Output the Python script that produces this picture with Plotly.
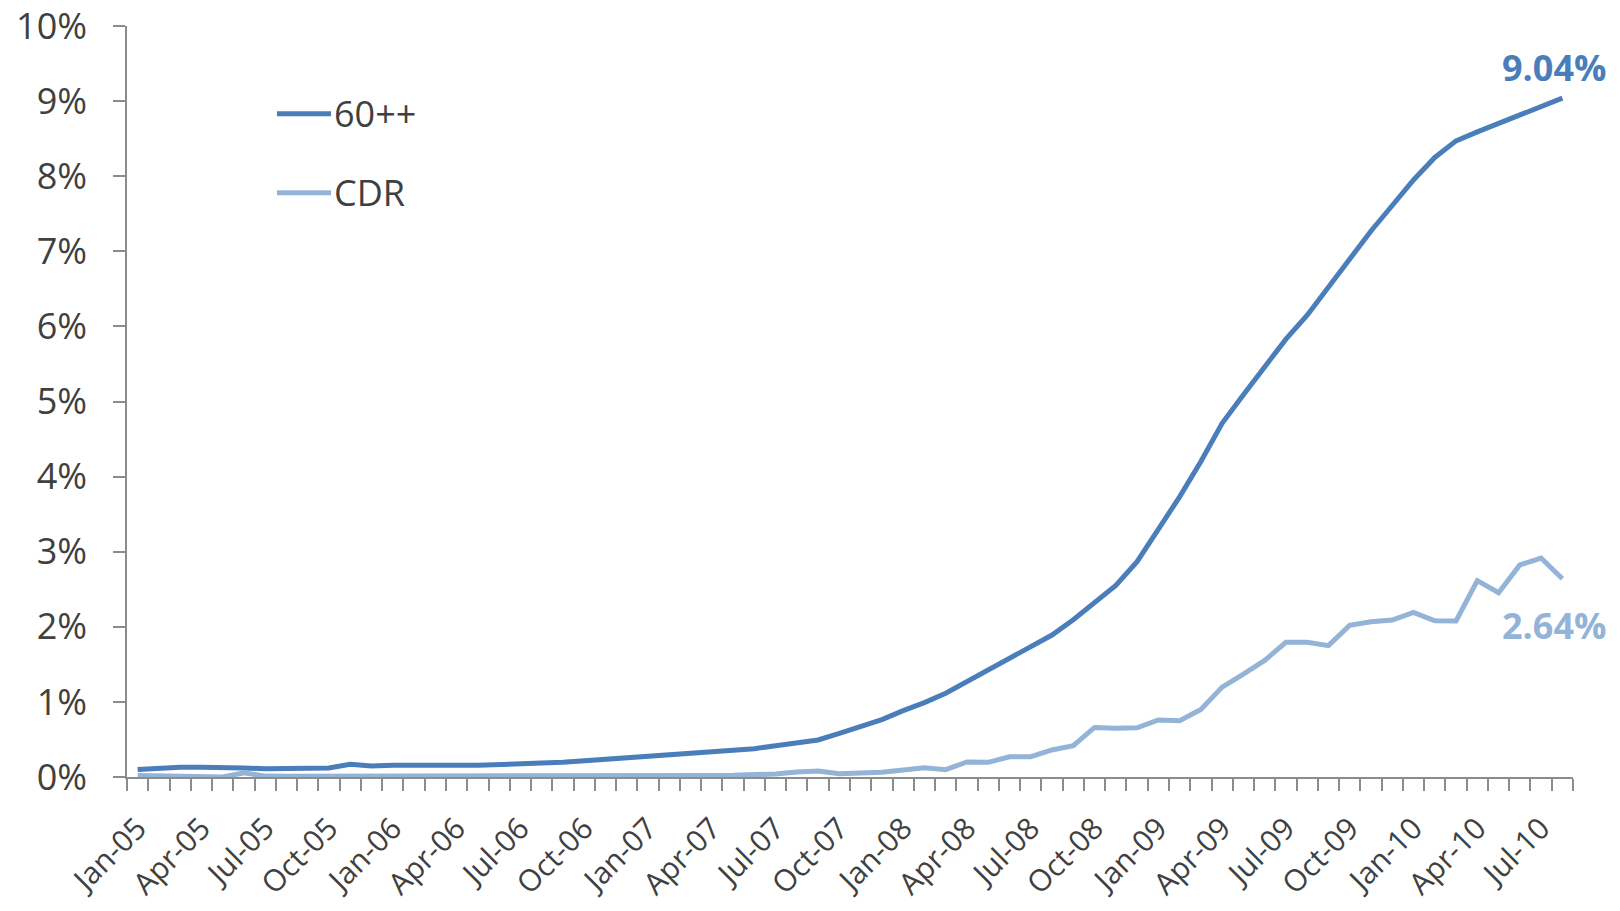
import plotly.graph_objects as go

# Monthly categories, Jan-05 through Aug-10
MONTH_NAMES = ["Jan", "Feb", "Mar", "Apr", "May", "Jun",
               "Jul", "Aug", "Sep", "Oct", "Nov", "Dec"]
months = [f"{MONTH_NAMES[m]}-{y:02d}" for y in range(5, 11) for m in range(12)][:68]

# 60+ day delinquency rate, percent
delinq_60 = [
    0.10, 0.12, 0.13, 0.13, 0.13, 0.12, 0.11, 0.11, 0.115, 0.12,
    0.17, 0.145, 0.155, 0.16, 0.165, 0.155, 0.155, 0.16, 0.17, 0.185, 0.195, 0.215,
    0.23, 0.253, 0.275, 0.293, 0.31, 0.328, 0.35, 0.377, 0.417, 0.46, 0.493, 0.58,
    0.67, 0.765, 0.883, 0.99, 1.115, 1.27, 1.42, 1.565, 1.72, 1.89, 2.095, 2.32,
    2.55, 2.867, 3.29, 3.73, 4.20, 4.71, 5.09, 5.47, 5.83, 6.15, 6.53, 6.89,
    7.27, 7.61, 7.95, 8.25, 8.47, 8.59, 8.70, 8.81, 8.93, 9.04,
]

# Constant default rate, percent
cdr = [
    0.02, 0.015, 0.005, 0.008, 0.0, 0.055, 0.012, 0.01, 0.01, 0.01,
    0.005, 0.008, 0.01, 0.005, 0.008, 0.01, 0.01, 0.012, 0.012, 0.012, 0.01, 0.008,
    0.013, 0.02, 0.02, 0.02, 0.02, 0.02, 0.022, 0.027, 0.04, 0.067, 0.08, 0.044,
    0.049, 0.062, 0.093, 0.124, 0.097, 0.20, 0.195, 0.27, 0.27, 0.36, 0.417, 0.66,
    0.65, 0.656, 0.759, 0.75, 0.90, 1.197, 1.371, 1.553, 1.793, 1.793, 1.749, 2.02,
    2.068, 2.09, 2.193, 2.081, 2.077, 2.614, 2.454, 2.823, 2.916, 2.64,
]

series_names = ["60++", "CDR"]
DARK = "#4A7EBB"
LIGHT = "#93B3D7"
TEXT = "#404040"
AXIS = "#8C8C8C"
FONT = "Open Sans"

x = list(range(len(months)))

fig = go.Figure()
fig.add_trace(go.Scatter(x=x, y=delinq_60, mode="lines", name=series_names[0],
                         line=dict(color=DARK, width=5), cliponaxis=False))
fig.add_trace(go.Scatter(x=x, y=cdr, mode="lines", name=series_names[1],
                         line=dict(color=LIGHT, width=5), cliponaxis=False))

label_idx = list(range(0, len(months), 3))

fig.update_layout(
    width=1620, height=911,
    margin=dict(l=127, r=47, t=26, b=134),
    paper_bgcolor="white", plot_bgcolor="white",
    showlegend=False,
    font=dict(family=FONT, color=TEXT),
)

fig.update_xaxes(
    automargin=False,
    range=[-0.5, len(months) - 0.5],
    tickmode="array", tickvals=label_idx, ticktext=[months[i] for i in label_idx],
    tickangle=-45, tickfont=dict(size=30, color=TEXT),
    ticks="outside", ticklen=20, tickcolor="rgba(0,0,0,0)",
    showline=True, linecolor=AXIS, linewidth=1.5,
    showgrid=False, zeroline=False,
    minor=dict(tickmode="linear", tick0=-0.5, dtick=1, ticks="outside",
               ticklen=12, tickwidth=1.5, tickcolor=AXIS, showgrid=False),
)

fig.update_yaxes(
    automargin=False,
    range=[0, 10], dtick=1, ticksuffix="%",
    tickfont=dict(size=36, color=TEXT),
    ticks="outside", ticklen=12, tickwidth=1.5, tickcolor=AXIS,
    ticklabelstandoff=19,
    showline=True, linecolor=AXIS, linewidth=1.5,
    showgrid=False, zeroline=False,
)

# Value labels on the final month of each series
fig.add_annotation(x=x[-1], y=delinq_60[-1], text=f"<b>{delinq_60[-1]:.2f}%</b>",
                   showarrow=False, xanchor="center", yanchor="middle",
                   xshift=-8, yshift=31, font=dict(size=36, color=DARK, family=FONT))
fig.add_annotation(x=x[-1], y=cdr[-1], text=f"<b>{cdr[-1]:.2f}%</b>",
                   showarrow=False, xanchor="center", yanchor="middle",
                   xshift=-8, yshift=-47, font=dict(size=36, color=LIGHT, family=FONT))

# Legend keys
legend_rows = [(series_names[0], DARK, 0.883), (series_names[1], LIGHT, 0.778)]
for name, color, ypos in legend_rows:
    fig.add_shape(type="line", xref="paper", yref="paper",
                  x0=0.1037, x1=0.1411, y0=ypos, y1=ypos,
                  line=dict(color=color, width=5))
    fig.add_annotation(xref="paper", yref="paper", x=0.142, y=ypos, text=name,
                       showarrow=False, xanchor="left", yanchor="middle",
                       font=dict(size=36, color=TEXT, family=FONT))

fig.write_html("out.html")
